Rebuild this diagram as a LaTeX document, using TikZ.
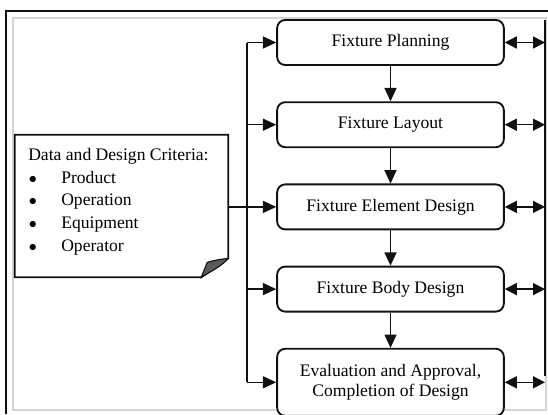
\documentclass[tikz,border=0pt]{standalone}
\usepackage{fontspec}
\setmainfont{Liberation Serif}
\usetikzlibrary{arrows.meta, positioning}
\definecolor{ink}{HTML}{111111}
\definecolor{fold}{HTML}{5A5A5A}
\definecolor{cframe}{HTML}{D4D4D4}
\newcommand{\critem}[1]{\makebox[24.75pt][l]{\hspace{0.5pt}$\bullet$}#1}

\begin{document}
\begin{tikzpicture}[x=0.75pt, y=-0.75pt,
    node distance=26.5pt,
    stage/.style={draw=ink, line width=1.4pt, rounded corners=6pt, fill=white, align=center,
                  minimum width=170pt, minimum height=33.75pt, font=\fontsize{13.2}{15}\selectfont},
    note/.style={minimum width=159.75pt, minimum height=106.5pt, inner sep=0pt},
    crit/.style={align=left, inner sep=0pt, font=\fontsize{13.2}{17}\selectfont},
    link/.style={draw=ink, line width=1.1pt},
    arr/.style={link, -{Triangle[length=10pt, width=9pt]}},
    dbl/.style={link, {Triangle[length=9pt, width=9pt]}-{Triangle[length=9pt, width=9pt]}}]
  \useasboundingbox (0,0) rectangle (548,414);
  % page frame
  \draw[cframe, line width=0.9pt] (13,18) rectangle (546,410);
  \draw[ink, line width=2pt] (6,414) -- (6,11) -- (548,11);

  % design stages
  \node[stage] (plan) at (390.5,42.5) {Fixture Planning};
  \node[stage, below=of plan] (lay) {Fixture Layout};
  \node[stage, below=of lay] (elem) {Fixture Element Design};
  \node[stage, below=of elem] (body) {Fixture Body Design};
  \node[stage, below=of body, minimum height=50.25pt] (eval) {Evaluation and Approval,\\Completion of Design};

  % input sheet with curled corner
  \node[note] (data) at (121.5,206) {};
  \draw[ink, line width=1.4pt, fill=white] (data.north west) -- (data.north east)
    -- ([yshift=14.25pt]data.south east) -- ([xshift=-20.25pt]data.south east)
    -- (data.south west) -- cycle;
  \filldraw[fill=fold, draw=ink, line width=0.8pt] ([yshift=14.25pt]data.south east)
    .. controls ([shift={(-5pt,8pt)}]data.south east) and ([shift={(-14pt,4pt)}]data.south east) .. ([xshift=-20.25pt]data.south east)
    -- ([shift={(-15.75pt,11.25pt)}]data.south east)
    .. controls ([shift={(-9pt,13pt)}]data.south east) .. ([yshift=14.25pt]data.south east);
  \node[crit, anchor=north west] (crit) at (28,148) {Data and Design Criteria:\\
    \critem{Product}\\\critem{Operation}\\\critem{Equipment}\\\critem{Operator}};

  % input bus on the left
  \coordinate (lbus) at (247,42.5);
  \draw[link] (plan.west -| lbus) -- (eval.west -| lbus);
  \draw[link] (data.east |- elem.west) -- (elem.west -| lbus);
  \foreach \s in {plan,lay,elem,body,eval}
    \draw[arr] (\s.west -| lbus) -- (\s.west);

  % stage sequence
  \foreach \a/\b in {plan/lay,lay/elem,elem/body,body/eval}
    \draw[arr] (\a) -- (\b);

  % feedback bus on the right
  \coordinate (rtop) at (545,20);
  \coordinate (rbot) at (545,376);
  \draw[link] (rtop) -- (rbot);
  \foreach \s in {plan,lay,elem,body,eval}
    \draw[dbl] (\s.east) -- (\s.east -| rtop);
\end{tikzpicture}
\end{document}
